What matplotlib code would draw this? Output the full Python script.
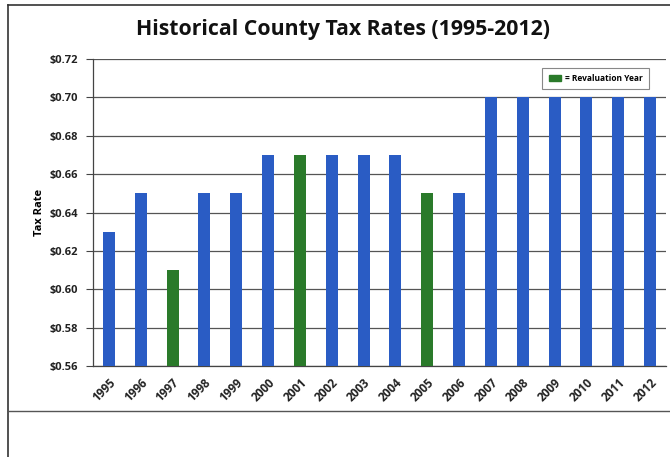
import matplotlib
matplotlib.use("Agg")
import matplotlib.pyplot as plt
from matplotlib.lines import Line2D
from matplotlib.patches import Patch

years = ["1995", "1996", "1997", "1998", "1999", "2000", "2001", "2002", "2003",
         "2004", "2005", "2006", "2007", "2008", "2009", "2010", "2011", "2012"]
rates = [0.63, 0.65, 0.61, 0.65, 0.65, 0.67, 0.67, 0.67, 0.67,
         0.67, 0.65, 0.65, 0.70, 0.70, 0.70, 0.70, 0.70, 0.70]
revaluation_years = ["1997", "2001", "2005"]
yticks = [0.56, 0.58, 0.60, 0.62, 0.64, 0.66, 0.68, 0.70, 0.72]

BLUE = "#2a5cc4"
GREEN = "#2a7a2a"
FONT = ["Open Sans", "DejaVu Sans"]

W, H = 670, 457
fig = plt.figure(figsize=(W / 100, H / 100), dpi=100)
fig.patch.set_facecolor("white")

ax = fig.add_axes([93 / W, 1 - 366 / H, (666 - 93) / W, (366 - 59) / H])
x = list(range(len(years)))
colors = [GREEN if y in revaluation_years else BLUE for y in years]
ax.bar(x, [r - 0.56 for r in rates], bottom=0.56, width=0.38, color=colors, zorder=3)
ax.set_xlim(-0.5, len(years) - 0.5)
ax.set_ylim(0.56, 0.72)
ax.set_yticks(yticks)
ax.set_yticklabels([f"${v:.2f}" for v in yticks], fontfamily=FONT, fontweight="bold",
                   fontsize=8, color="#222222")
ax.set_xticks(x)
ax.set_xticklabels(years, rotation=45, ha="right", rotation_mode="anchor",
                   fontfamily=FONT, fontweight="bold", fontsize=8.5, color="#222222")
ax.tick_params(axis="x", length=0, pad=7)
ax.tick_params(axis="y", length=5, width=0.8, color="#444444", pad=6)
ax.grid(axis="y", color="#555555", linewidth=0.9, zorder=0)
for s in ["top", "right"]:
    ax.spines[s].set_visible(False)
for s in ["left", "bottom"]:
    ax.spines[s].set_color("#444444")
    ax.spines[s].set_linewidth(0.9)
ax.set_ylabel("Tax Rate", fontfamily=FONT, fontweight="bold", fontsize=8, labelpad=3)

leg = ax.legend(handles=[Patch(facecolor=GREEN, edgecolor=GREEN, label="= Revaluation Year")],
                loc="upper right", bbox_to_anchor=(0.975, 0.98), frameon=True,
                prop={"family": FONT, "weight": "bold", "size": 6},
                handlelength=1.5, handleheight=0.9, handletextpad=0.5, borderpad=0.75,
                borderaxespad=0.3, fancybox=False, framealpha=1)
leg.get_frame().set_edgecolor("#888888")
leg.get_frame().set_linewidth(0.8)

fig.text(343 / W, 1 - 30 / H, "Historical County Tax Rates (1995-2012)",
         ha="center", va="center", fontfamily=FONT, fontweight="bold", fontsize=15.3,
         color="#111111")

# outer frame lines
fig.add_artist(Line2D([8 / W, 8 / W], [0, 1 - 5 / H], transform=fig.transFigure,
                      color="#333333", linewidth=1.2))
fig.add_artist(Line2D([8 / W, 1], [1 - 5 / H, 1 - 5 / H], transform=fig.transFigure,
                      color="#333333", linewidth=1.2))
fig.add_artist(Line2D([8 / W, 1], [1 - 411 / H, 1 - 411 / H], transform=fig.transFigure,
                      color="#555555", linewidth=1.0))

fig.savefig("out.png", dpi=100)
